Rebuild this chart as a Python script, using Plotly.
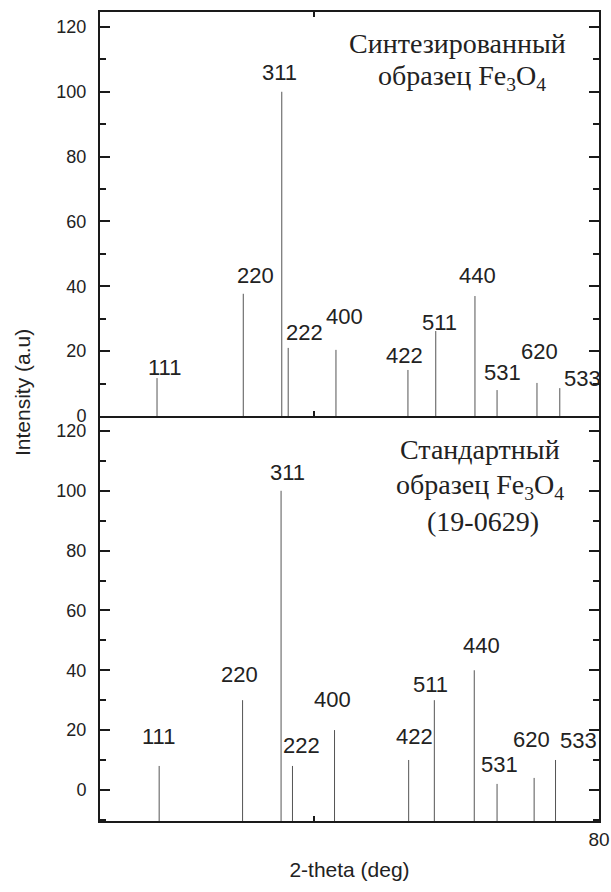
import plotly.graph_objects as go

# ---------------- data ----------------
hkl = ["111", "220", "311", "222", "400", "422", "511", "440", "531", "620", "533"]
two_theta_synth = [18.0, 30.1, 35.5, 36.4, 43.1, 53.2, 57.1, 62.6, 65.7, 71.3, 74.5]
intensity_synth = [11.7, 37.7, 100, 21.0, 20.4, 14.2, 26.2, 37.0, 8.0, 10.2, 8.6]
two_theta_std = [18.3, 30.0, 35.4, 37.0, 42.9, 53.3, 56.9, 62.5, 65.7, 70.9, 73.9]
intensity_std = [8, 30, 100, 8, 20, 10, 30, 40, 2, 4, 10]
y_tick_vals = [0, 20, 40, 60, 80, 100, 120]
y_tick_text = ["0", "20", "40", "60", "80", "100", "120"]
x_tick_vals = [40, 80]
x_tick_text = ["", "80"]

# ---------------- style ----------------
W, H = 611, 892
ML, MR, MT, MB = 100, 12, 12, 71
split = 0.5006
top_range = [0, 124.6]
bot_range = [-10.4, 125.0]
x_range = [10, 80]
axis_col = "#1a1a1a"
peak_col = "#555555"
sans = "Liberation Sans, Arial, sans-serif"
serif = "Liberation Serif, Times New Roman, serif"
# label offsets (pixels) relative to peak tops
off_top = [(7, 11), (12, 18), (-2, 19), (16, 15), (9, 33), (-3, 14), (4, 9), (3, 21), (5, 18), (3, 31), (23, 10)]
off_bot = [(-1, 29), (-3, 26), (6, 18), (9, 20), (-2, 31), (6, 23), (-4, 16), (7, 25), (2, 19), (-3, 38), (23, 19)]


def stick_xy(xs, ys, base):
    X, Y = [], []
    for a, b in zip(xs, ys):
        X += [a, a, None]
        Y += [base, b, None]
    return X, Y


fig = go.Figure()

xs, ys = stick_xy(two_theta_synth, intensity_synth, top_range[0])
fig.add_trace(go.Scatter(x=xs, y=ys, mode="lines", line=dict(color=peak_col, width=1),
                         xaxis="x", yaxis="y", showlegend=False, hoverinfo="skip"))
xs, ys = stick_xy(two_theta_std, intensity_std, bot_range[0])
fig.add_trace(go.Scatter(x=xs, y=ys, mode="lines", line=dict(color=peak_col, width=1),
                         xaxis="x2", yaxis="y2", showlegend=False, hoverinfo="skip"))

annotations = []
for lab, x, y, (dx, dy) in zip(hkl, two_theta_synth, intensity_synth, off_top):
    annotations.append(dict(x=x, y=y, xref="x", yref="y", text=lab, showarrow=False,
                            xanchor="center", yanchor="middle", xshift=dx, yshift=dy,
                            font=dict(family=sans, size=22, color="#222")))
for lab, x, y, (dx, dy) in zip(hkl, two_theta_std, intensity_std, off_bot):
    annotations.append(dict(x=x, y=y, xref="x2", yref="y2", text=lab, showarrow=False,
                            xanchor="center", yanchor="middle", xshift=dx, yshift=dy,
                            font=dict(family=sans, size=22, color="#222")))


def px2paper(px, py):
    return (px - ML) / (W - ML - MR), (H - MB - py) / (H - MT - MB)


serif_texts = [
    ("Синтезированный", 457, 43),
    ("образец Fe<sub>3</sub>O<sub>4</sub>", 462, 77),
    ("Стандартный", 480, 449),
    ("образец Fe<sub>3</sub>O<sub>4</sub>", 480, 486),
    ("(19-0629)", 483, 521),
]
for t, px, py in serif_texts:
    ax, ay = px2paper(px, py)
    annotations.append(dict(x=ax, y=ay, xref="paper", yref="paper", text=t, showarrow=False,
                            xanchor="center", yanchor="middle",
                            font=dict(family=serif, size=28, color="#222")))

ax, ay = px2paper(22, 393)
annotations.append(dict(x=ax, y=ay, xref="paper", yref="paper", text="Intensity (a.u)",
                        showarrow=False, textangle=-90, xanchor="center", yanchor="middle",
                        font=dict(family=sans, size=21, color="#222")))

common_y = dict(showline=True, linecolor=axis_col, linewidth=2, mirror="ticks",
                ticks="inside", ticklen=10, tickwidth=2, tickcolor=axis_col,
                tickvals=y_tick_vals, ticktext=y_tick_text,
                minor=dict(dtick=10, ticks="inside", ticklen=6, tickwidth=2, tickcolor=axis_col),
                showgrid=False, zeroline=False, automargin=False,
                tickfont=dict(family=sans, size=18, color="#222"), ticklabelstandoff=8)
common_x = dict(showline=True, linecolor=axis_col, linewidth=2, range=x_range,
                ticks="inside", ticklen=5, tickwidth=2, tickcolor=axis_col,
                tickvals=x_tick_vals, ticktext=x_tick_text,
                showgrid=False, zeroline=False, automargin=False,
                tickfont=dict(family=sans, size=19, color="#222"))

fig.update_layout(
    width=W, height=H,
    margin=dict(l=ML, r=MR, t=MT, b=MB, autoexpand=False),
    paper_bgcolor="white", plot_bgcolor="white",
    xaxis=dict(common_x, domain=[0, 1], anchor="y", mirror="ticks", showticklabels=False),
    yaxis=dict(common_y, domain=[split, 1], anchor="x", range=top_range),
    xaxis2=dict(common_x, domain=[0, 1], anchor="y2", mirror=False,
                title=dict(text="2-theta (deg)", font=dict(family=sans, size=21, color="#222"),
                           standoff=14)),
    yaxis2=dict(common_y, domain=[0, split], anchor="x2", range=bot_range),
    annotations=annotations,
)

fig.write_html("out.html", config={"displayModeBar": False},
               post_script="document.body.style.margin='0';document.body.style.overflow='hidden';")
